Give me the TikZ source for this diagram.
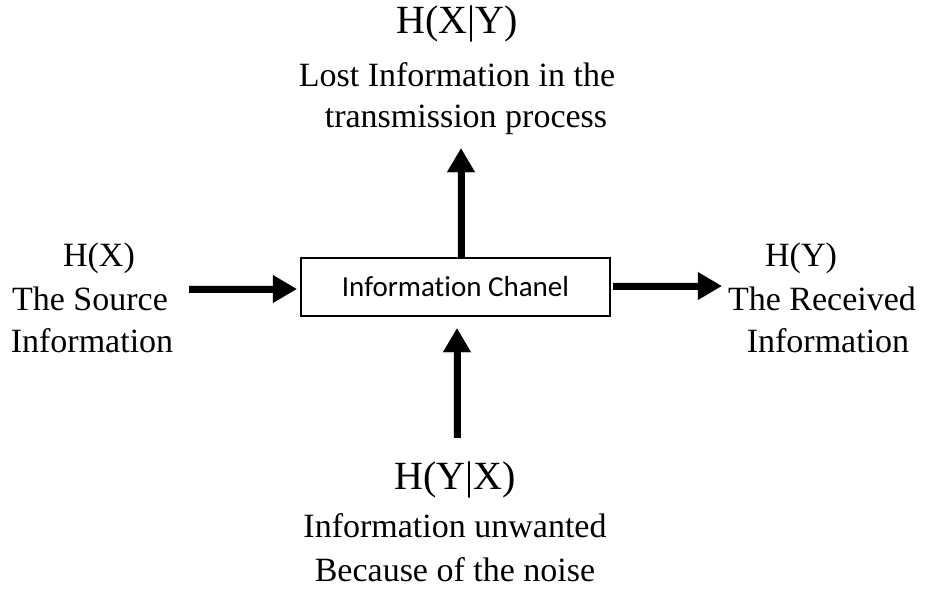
\documentclass[tikz,border=0pt]{standalone}
\usepackage{fontspec}
\setmainfont{Liberation Serif}
\newfontfamily\boxfont[Ligatures={NoCommon}]{Carlito}
\usetikzlibrary{arrows.meta}
\tikzset{
  lbl/.style={anchor=base, inner sep=0pt, font=\fontsize{34}{40}\selectfont},
  hbig/.style={anchor=base, inner sep=0pt, font=\fontsize{40}{46}\selectfont},
  hmid/.style={anchor=base, inner sep=0pt, font=\fontsize{34}{40}\selectfont},
  chan/.style={draw=black, line width=1.8pt, minimum width=309pt, minimum height=58pt, inner sep=0pt,
    font=\boxfont\fontsize{29}{34}\selectfont},
  fatarrow/.style={line width=7pt, -{Triangle[width=26pt,length=24pt]}},
  shadowarrow/.style={line width=8pt, draw=black!30, opacity=0.45, -{Triangle[width=28pt,length=25pt]}}
}
\begin{document}
\begin{tikzpicture}[x=1pt,y=-1pt]
\useasboundingbox (0,0) rectangle (926,590);
% box
\node[chan] (box) at (455.5,287) {Information Chanel};
% top texts
\node[hbig] (t1) at (457,33) {H(X|Y)};
\node[lbl] (t2) at (457,86) {Lost Information in the};
\node[lbl] (t3) at (466,127) {transmission process};
% left texts
\node[hmid] (l1) at (99,266) {H(X)};
\node[lbl] (l2) at (90,310) {The Source};
\node[lbl] (l3) at (92,352) {Information};
% right texts
\node[hmid] (r1) at (801,266) {H(Y)};
\node[lbl] (r2) at (822,310) {The Received};
\node[lbl] (r3) at (828,352) {Information};
% bottom texts
\node[hbig] (b1) at (455,489) {H(Y|X)};
\node[lbl] (b2) at (455,537) {Information unwanted};
\node[lbl] (b3) at (455,581) {Because of the noise};
% arrow end points
\coordinate (la) at (189,289);
\coordinate (lb) at (297,289);
\coordinate (ra) at (613,286);
\coordinate (rb) at (722,286);
\coordinate (ua) at (461,258);
\coordinate (ub) at (461,148);
\coordinate (da) at (457,438);
\coordinate (db) at (457,328);
% shadows
\begin{scope}[shift={(2,3)}]
\draw[shadowarrow] (la) -- (lb);
\draw[shadowarrow] (ra) -- (rb);
\draw[shadowarrow] (ua) -- (ub);
\draw[shadowarrow] (da) -- (db);
\end{scope}
% arrows
\draw[fatarrow] (la) -- (lb);
\draw[fatarrow] (ra) -- (rb);
\draw[fatarrow] (ua) -- (ub);
\draw[fatarrow] (da) -- (db);
\end{tikzpicture}
\end{document}
